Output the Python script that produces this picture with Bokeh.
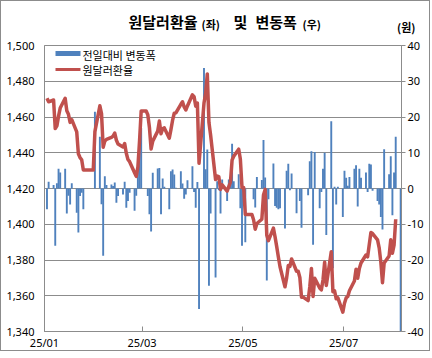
import math
import pandas as pd
from bokeh.plotting import figure
from bokeh.models import (ColumnDataSource, Range1d, LinearAxis, FixedTicker,
                          NumeralTickFormatter, DatetimeTickFormatter, Label, BoxAnnotation, Title)
from bokeh.embed import file_html
from bokeh.resources import INLINE

# ---- categories: weekdays of 2025 shown in the chart (holidays carry the previous rate) ----
jan_days = [2, 3, 6, 7, 8, 9, 10, 13, 14, 15, 16, 17, 20, 21, 22, 23, 24, 27, 28, 29, 30, 31]
feb_days = [3, 4, 5, 6, 7, 10, 11, 12, 13, 14, 17, 18, 19, 20, 21, 24, 25, 26, 27, 28]
mar_days = [3, 4, 5, 6, 7, 10, 11, 12, 13, 14, 17, 18, 19, 20, 21, 24, 25, 26, 27, 28, 31]
apr_days = [1, 2, 3, 4, 7, 8, 9, 10, 11, 14, 15, 16, 17, 18, 21, 22, 23, 24, 25, 28, 29, 30]
may_days = [1, 2, 5, 6, 7, 8, 9, 12, 13, 14, 15, 16, 19, 20, 21, 22, 23, 26, 27, 28, 29, 30]
jun_days = [2, 3, 4, 5, 6, 9, 10, 11, 12, 13, 16, 17, 18, 19, 20, 23, 24, 25, 26, 27, 30]
jul_days = [1, 2, 3, 4, 7, 8, 9, 10, 11, 14, 15, 16, 17, 18, 21, 22, 23, 24, 25, 28, 29, 30, 31]
aug_days = [1, 4]

# ---- 원달러환율 (left axis, 원) ----
rate_jan = [1470.5, 1468.5, 1469.5, 1453.5, 1455.0, 1460.5, 1465.0, 1470.5, 1463.5, 1461.5, 1457.0,
            1458.5, 1451.7, 1439.4, 1437.3, 1436.1, 1430.3, 1430.3, 1430.3, 1430.3, 1430.3, 1451.8]
rate_feb = [1466.3, 1461.9, 1443.1, 1446.5, 1447.5, 1448.6, 1449.3, 1451.0, 1447.0, 1444.9,
            1443.2, 1445.1, 1439.7, 1436.2, 1435.0, 1428.8, 1426.8, 1432.0, 1446.5, 1463.4]
rate_mar = [1463.4, 1461.3, 1454.1, 1442.1, 1446.5, 1452.1, 1457.8, 1450.6, 1453.4, 1453.9, 1448.1,
            1452.9, 1458.2, 1462.1, 1462.3, 1467.1, 1468.5, 1465.6, 1463.9, 1466.2, 1472.4]
rate_apr = [1471.4, 1466.0, 1467.8, 1434.1, 1467.8, 1473.2, 1484.1, 1456.9, 1449.9, 1425.0, 1427.0,
            1426.5, 1419.5, 1422.0, 1418.5, 1421.0, 1423.5, 1436.0, 1438.0, 1442.0, 1436.5, 1420.5]
rate_may = [1420.5, 1405.5, 1405.5, 1405.5, 1402.5, 1397.2, 1400.4, 1402.8, 1416.4, 1419.5, 1393.8,
            1390.8, 1397.8, 1392.9, 1387.5, 1381.7, 1376.2, 1365.0, 1370.0, 1376.9, 1376.4, 1380.6]
rate_jun = [1373.7, 1373.7, 1370.2, 1359.2, 1359.2, 1357.3, 1364.9, 1375.3, 1359.6, 1369.8, 1364.3,
            1363.3, 1368.8, 1378.8, 1365.8, 1384.6, 1362.3, 1362.8, 1358.3, 1358.8, 1350.8]
rate_jul = [1355.8, 1358.8, 1359.6, 1362.8, 1368.3, 1374.8, 1369.8, 1375.3, 1378.3, 1382.8, 1381.8,
            1388.7, 1395.4, 1394.8, 1391.3, 1386.8, 1378.8, 1367.3, 1378.3, 1382.3, 1391.3, 1383.8, 1388.3]
rate_aug = [1402.8, float("nan")]

# ---- 전일대비 변동폭 (right axis, 원) ----
chg_jan = [-5.8, 1.9, 1.0, -16.0, 1.5, 5.5, 4.5, 5.5, -7.0, -2.0, -4.5,
           1.5, -6.8, -12.3, -2.1, -1.2, -5.8, 0, 0, 0, 0, 21.5]
chg_feb = [14.5, -4.4, -18.8, 3.4, 1.0, 1.1, 0.7, 1.7, -4.0, -2.1,
           -1.7, 1.9, -5.4, -3.5, -1.2, -6.2, -2.0, 5.2, 14.5, 16.9]
chg_mar = [0, -2.1, -7.2, -12.0, 4.4, 5.6, 5.7, -7.2, 2.8, 0.5, -5.8,
           4.8, 5.3, 3.9, 0.2, 4.8, 1.4, -2.9, -1.7, 2.3, 6.2]
chg_apr = [-1.0, -5.4, 1.8, -33.7, 33.7, 5.4, 10.9, -27.2, -7.0, -24.9, 2.0,
           -0.5, -7.0, 2.5, -3.5, 2.5, 2.5, 12.5, 2.0, 4.0, -5.5, -16.0]
chg_may = [0, -15.0, 0, 0, -3.0, -5.3, 3.2, 2.4, 13.6, 3.1, -25.7,
           -3.0, 7.0, -4.9, -5.4, -5.8, -5.5, -11.2, 5.0, 6.9, -0.5, 4.2]
chg_jun = [-6.9, 0, -3.5, -11.0, 0, -1.9, 7.6, 10.4, -15.7, 10.2, -5.5,
           -1.0, 5.5, 10.0, -13.0, 18.8, -22.3, 0.5, -4.5, 0.5, -8.0]
chg_jul = [5.0, 3.0, 0.8, 3.2, 5.5, 6.5, -5.0, 5.5, 3.0, 4.5, -1.0,
           6.9, 6.7, -0.6, -3.5, -4.5, -8.0, -11.5, 11.0, 4.0, 9.0, -7.5, 4.5]
chg_aug = [14.5, -1402.8]   # last row has no rate, so its change runs off the axis

tick_labels = ["25/01", "25/03", "25/05", "25/07"]

months = [(1, jan_days, rate_jan, chg_jan), (2, feb_days, rate_feb, chg_feb),
          (3, mar_days, rate_mar, chg_mar), (4, apr_days, rate_apr, chg_apr),
          (5, may_days, rate_may, chg_may), (6, jun_days, rate_jun, chg_jun),
          (7, jul_days, rate_jul, chg_jul), (8, aug_days, rate_aug, chg_aug)]
xs, rates, chgs = [], [], []
for m, ds, rs, cs in months:
    assert len(ds) == len(rs) == len(cs), m
    for d, r, c in zip(ds, rs, cs):
        xs.append(pd.Timestamp(2025, m, d) + pd.Timedelta(hours=12))
        rates.append(r)
        chgs.append(c)

src = ColumnDataSource(dict(x=xs, rate=rates, chg=chgs))

FONT_KR = "Noto Sans CJK KR"
FONT_NUM = "Noto Sans"
GRID = "#8C8C8C"
BLUE = "#4F81BD"
RED = "#C0504D"

p = figure(width=430, height=351, x_axis_type="datetime", output_backend="svg",
           toolbar_location=None,
           x_range=Range1d(start=pd.Timestamp("2025-01-01"), end=pd.Timestamp("2025-08-05")),
           y_range=Range1d(1340, 1500),
           min_border_left=43, min_border_right=30, min_border_top=44, min_border_bottom=19)
p.styles = {"border": "1px solid #8C8C8C"}
p.extra_y_ranges = {"chg": Range1d(-40, 40)}
p.background_fill_color = "white"
p.border_fill_color = "white"
p.outline_line_color = GRID

day_ms = 86400000
p.vbar(x="x", top="chg", bottom=0, width=1.15 * day_ms, source=src,
       y_range_name="chg", fill_color=BLUE, line_color=None)
p.line(x="x", y="rate", source=src, line_color=RED, line_width=3.5, line_join="round")

# grids
p.xgrid.visible = False
p.ygrid.grid_line_color = GRID
p.ygrid.grid_line_width = 1

# left axis
ya = p.yaxis[0]
ya.ticker = FixedTicker(ticks=list(range(1340, 1501, 20)))
ya.formatter = NumeralTickFormatter(format="0,0")
ya.axis_line_color = GRID
ya.major_tick_out = 0
ya.major_tick_in = 0
ya.minor_tick_line_color = None
ya.major_label_standoff = 10
ya.major_label_text_font = FONT_NUM
ya.major_label_text_font_size = "11px"
ya.major_label_text_color = "#000000"

# right axis
ra = LinearAxis(y_range_name="chg", ticker=FixedTicker(ticks=list(range(-40, 41, 10))),
                formatter=NumeralTickFormatter(format="0"))
ra.axis_line_color = GRID
ra.major_tick_line_color = GRID
ra.major_tick_out = 4
ra.major_tick_in = 0
ra.minor_tick_line_color = None
ra.major_label_standoff = 2
ra.major_label_text_font = FONT_NUM
ra.major_label_text_font_size = "11px"
ra.major_label_text_color = "#000000"
p.add_layout(ra, "right")

# x axis
xa = p.xaxis[0]
xa.ticker = FixedTicker(ticks=[pd.Timestamp("2025-%s-01" % t.split("/")[1]).value / 1e6 for t in tick_labels])
fmt = "%y/%m"
xa.formatter = DatetimeTickFormatter(milliseconds=fmt, seconds=fmt, minsec=fmt, minutes=fmt,
                                     hourmin=fmt, hours=fmt, days=fmt, months=fmt, years=fmt)
xa.axis_line_color = GRID
xa.major_tick_line_color = GRID
xa.major_tick_in = 5
xa.major_tick_out = 0
xa.minor_tick_line_color = None
xa.major_label_standoff = 3
xa.major_label_text_font = FONT_NUM
xa.major_label_text_font_size = "11px"
xa.major_label_text_color = "#000000"

# ---- title pieces: stacked Title annotations in the top panel ----
H11 = 16   # approx text box height, 11px
H15 = 22   # approx text box height, 15px

def top_title(text, size, h, panel_h, valign, offset, align="left", bold=True):
    t = Title(text=text, align=align, offset=offset, vertical_align=valign,
              standoff=panel_h - 2 - h, text_font=FONT_KR, text_font_size=size,
              text_font_style="bold" if bold else "normal", text_color="#000000")
    p.add_layout(t, "above")

top_title(" ", "11px", H11, 15, "middle", 0)                     # spacer next to the frame
top_title("(원)", "11px", H11, 8, "middle", -14, align="right")   # unit label
top_title("원달러환율", "15px", H15, 0, "top", 84)
top_title("및", "15px", H15, 0, "top", 189)
top_title("변동폭", "15px", H15, 0, "top", 211)
top_title("(좌)", "11px", H11, 0, "bottom", 157)
top_title("(우)", "11px", H11, 0, "bottom", 258)

# legend (drawn by hand)
def lab(x, y, text, size, bold=False):
    p.add_layout(Label(x=x, y=y, x_units="screen", y_units="screen", text=text,
                       text_font=FONT_KR, text_font_size=size,
                       text_font_style="bold" if bold else "normal",
                       text_align="left", text_baseline="middle", text_color="#000000"))

p.add_layout(BoxAnnotation(left=11, right=36, bottom=275.5, top=280.5,
                           left_units="screen", right_units="screen",
                           top_units="screen", bottom_units="screen",
                           fill_color=BLUE, fill_alpha=1.0, line_color=None))
p.add_layout(BoxAnnotation(left=11, right=36, bottom=260.5, top=263.5,
                           left_units="screen", right_units="screen",
                           top_units="screen", bottom_units="screen",
                           fill_color=RED, fill_alpha=1.0, line_color=None))
lab(38, 277, "전일대비 변동폭", "11px")
lab(38, 262, "원달러환율", "11px")

open("out.html", "w").write(file_html(p, INLINE))
